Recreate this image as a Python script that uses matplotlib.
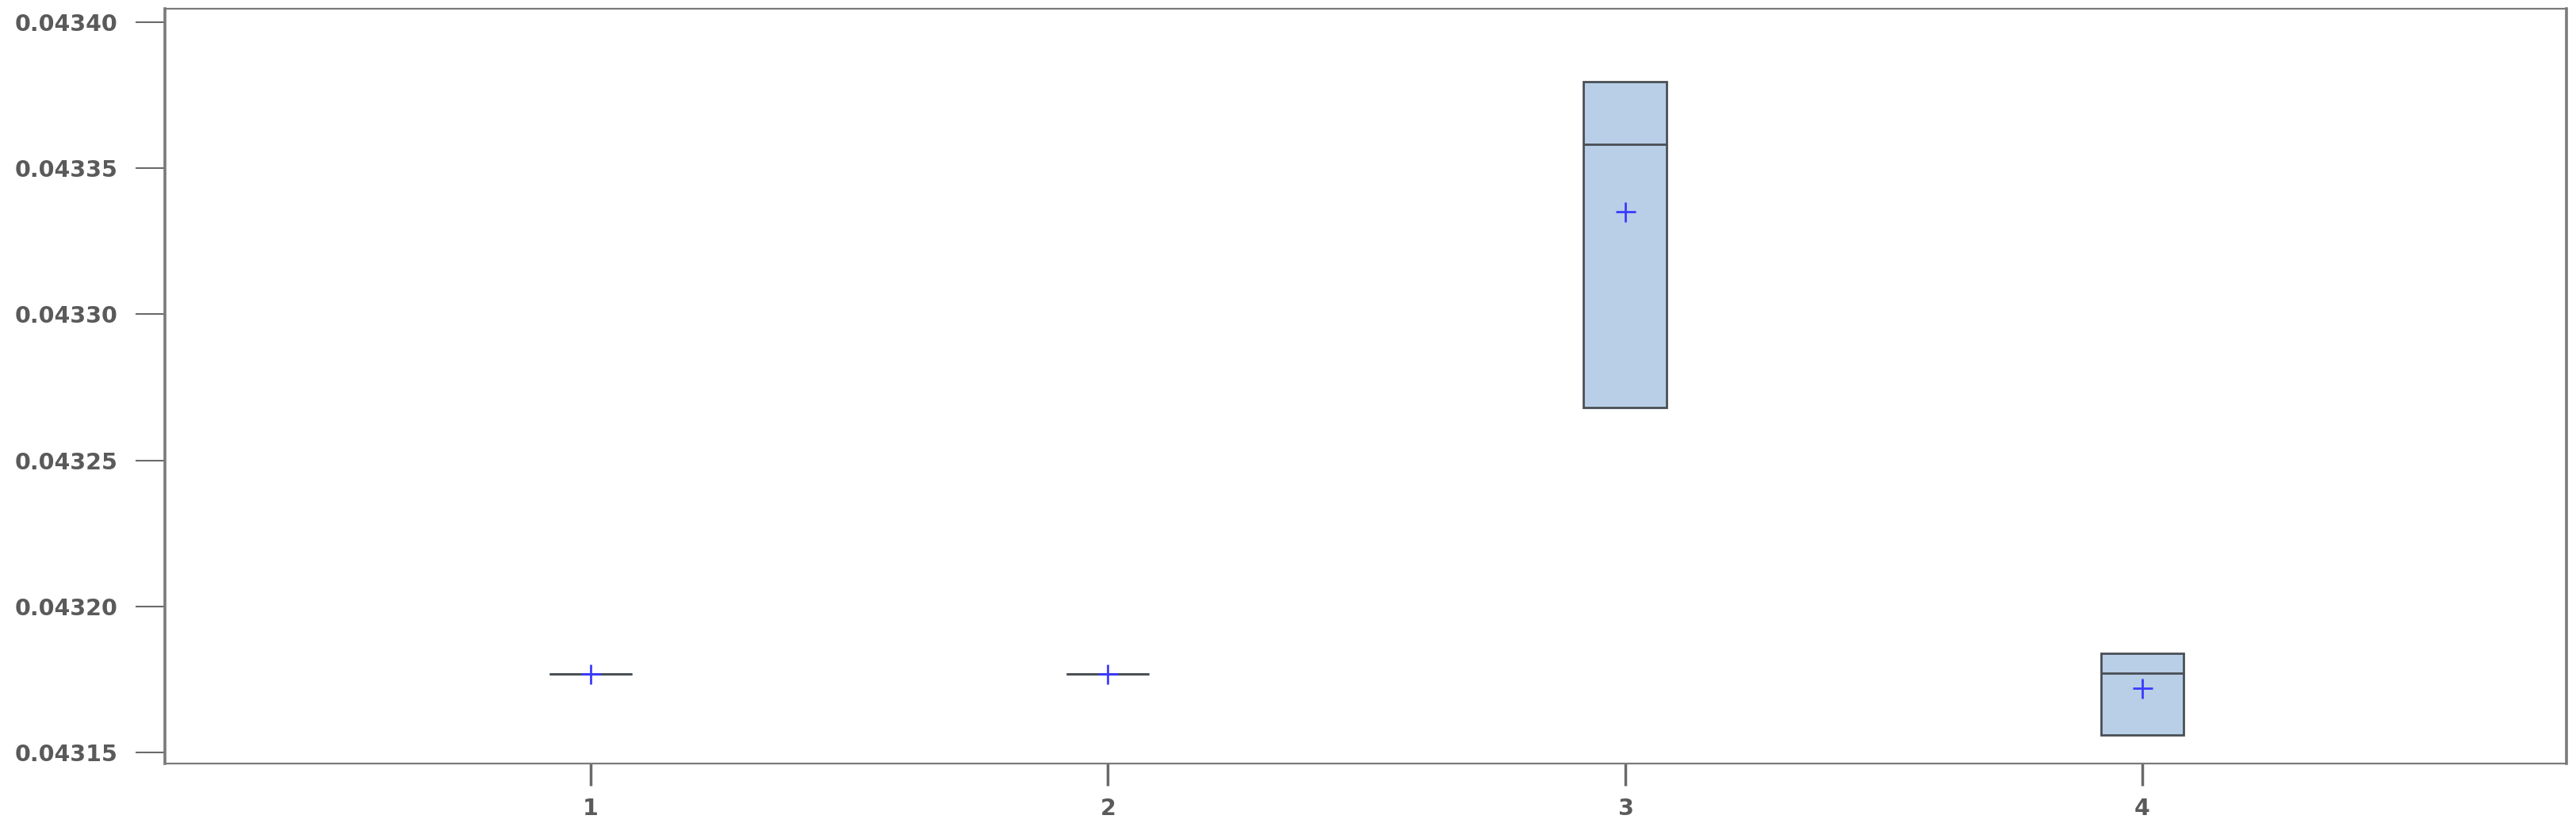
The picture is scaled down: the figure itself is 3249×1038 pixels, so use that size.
import matplotlib
matplotlib.use("Agg")
import matplotlib.pyplot as plt

# Data
groups = [1, 2, 3, 4]
q1 = [0.0431770, 0.0431770, 0.0432681, 0.0431561]
med = [0.0431770, 0.0431770, 0.0433581, 0.0431772]
q3 = [0.0431770, 0.0431770, 0.0433795, 0.0431840]
mean = [0.0431770, 0.0431770, 0.0433351, 0.0431721]
yticks = [0.04315, 0.04320, 0.04325, 0.04330, 0.04335, 0.04340]
ytick_labels = ["0.04315", "0.04320", "0.04325", "0.04330", "0.04335", "0.04340"]

fig = plt.figure(figsize=(32.49, 10.38), dpi=100)
ax = fig.add_axes([0.064, 0.0723, 0.9323, 0.9171])

stats = []
for g, a, m, b, mu in zip(groups, q1, med, q3, mean):
    stats.append(dict(label=str(g), q1=a, med=m, q3=b, whislo=a, whishi=b,
                      mean=mu, fliers=[]))

edge = "#4a4f55"
ax.bxp(stats, positions=groups, widths=0.16, patch_artist=True,
       showcaps=False, showfliers=False, showmeans=True,
       boxprops=dict(facecolor="#b8cfe7", edgecolor=edge, linewidth=2.0),
       medianprops=dict(color=edge, linewidth=2.0),
       whiskerprops=dict(color=edge, linewidth=2.0),
       meanprops=dict(marker="+", markeredgecolor="#3a3aff", markersize=18,
                      markeredgewidth=2.0, linestyle="none"))

ax.set_xlim(0.177, 4.82)
ax.set_ylim(0.0431463, 0.0434045)
ax.set_yticks(yticks)
ax.set_yticklabels(ytick_labels)
ax.set_xticks(groups)
ax.set_xticklabels([str(g) for g in groups])

for lab in ax.get_yticklabels() + ax.get_xticklabels():
    lab.set_family("DejaVu Sans")
    lab.set_fontweight("bold")
    lab.set_fontsize(20.5)
    lab.set_color("#5a5a5a")

ax.tick_params(axis="y", direction="out", length=27, width=1.5, color="#6a6a6a", pad=16)
ax.tick_params(axis="x", direction="out", length=20, width=2.5, color="#6a6a6a", pad=11)

for side in ["left", "right"]:
    ax.spines[side].set_linewidth(2.6)
    ax.spines[side].set_color("#7a7a7a")
for side in ["top", "bottom"]:
    ax.spines[side].set_linewidth(1.6)
    ax.spines[side].set_color("#7a7a7a")

fig.savefig("out.png", dpi=100, facecolor="white")
